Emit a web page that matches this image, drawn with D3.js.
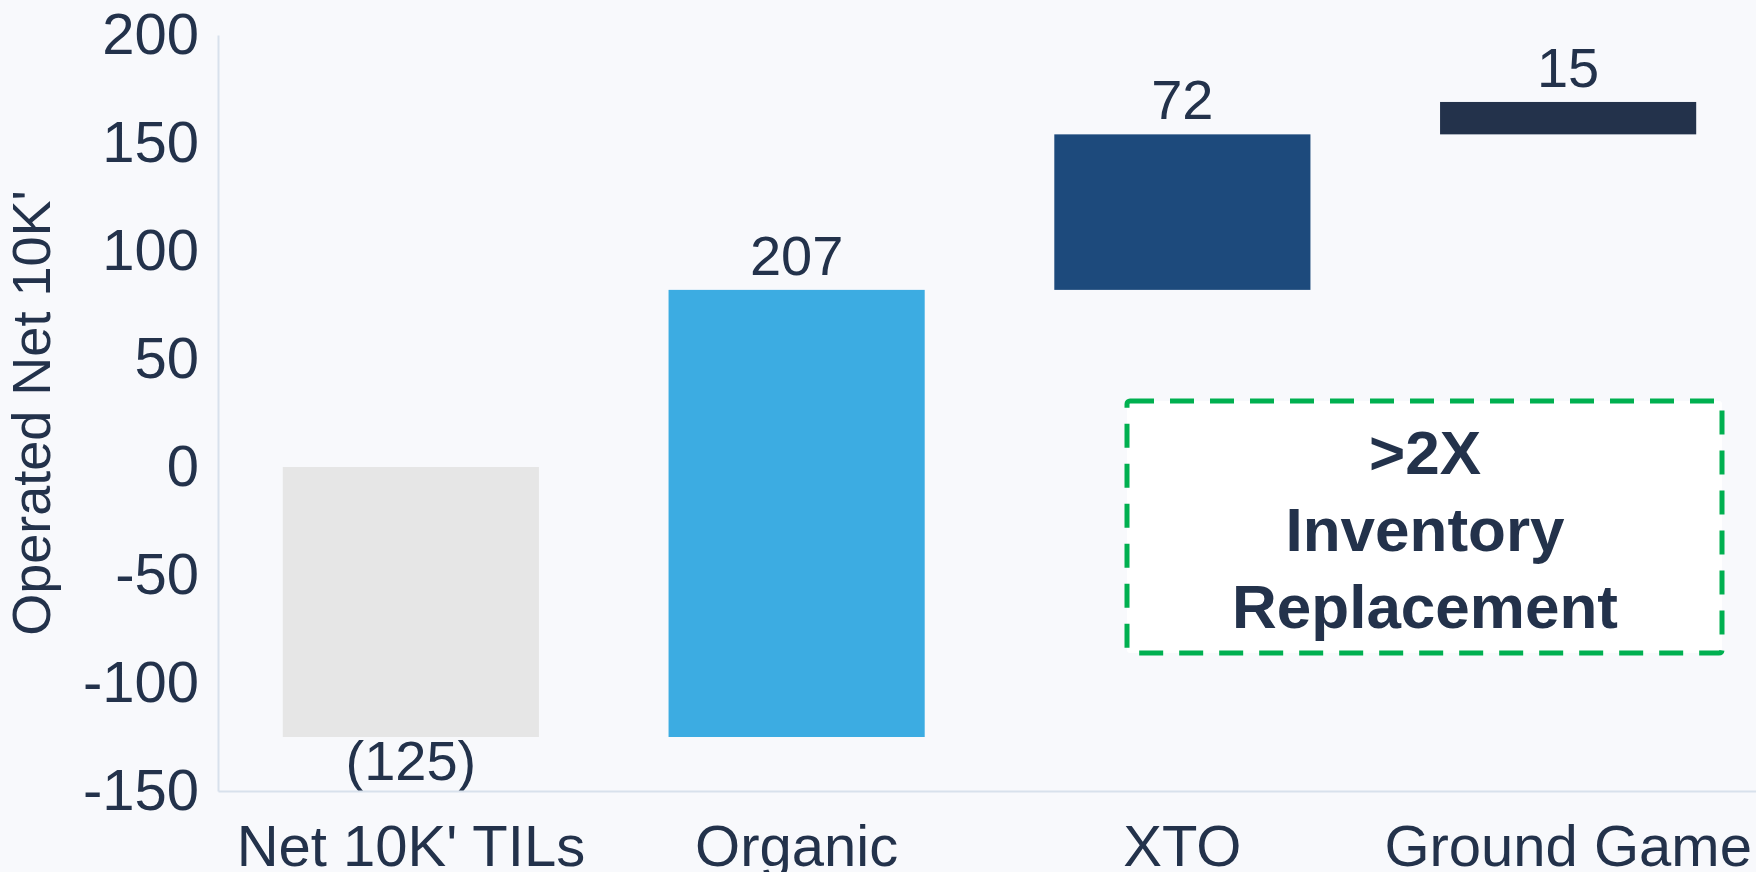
<!DOCTYPE html>
<html>
<head>
<meta charset="utf-8">
<script src="https://cdn.jsdelivr.net/npm/d3@7"></script>
<style>
  body { margin: 0; background: #f8f9fc; }
  svg { display: block; font-family: "Liberation Sans", Arial, sans-serif; }
</style>
</head>
<body>
<script>
// waterfall steps
var categories = ["Net 10K' TILs", "Organic", "XTO", "Ground Game"];
var changes = [-125, 207, 72, 15];
var barColors = ["#e6e6e6", "#3cace2", "#1d4a7c", "#23324b"];
var yTicks = [-150, -100, -50, 0, 50, 100, 150, 200];
var calloutLines = [">2X", "Inventory", "Replacement"];

const w = 1756;
const h = 872;
const textColor = "#23324b";

// build start / end for each step
var running = 0;
var steps = changes.map(function (v, i) {
    var start = i == 0 ? 0 : running;
    var end = i == 0 ? v : running + v;
    running = end;
    return { name: categories[i], value: v, y0: Math.min(start, end), y1: Math.max(start, end) };
});

const xScale = d3.scaleBand()
    .domain(categories)
    .range([218, 1761])
    .paddingInner(0.336)
    .paddingOuter(0.168);

const yScale = d3.scaleLinear()
    .domain([-150, 200])
    .range([791, 35]);

const svg = d3.select("body")
    .append("svg")
    .attr("width", w)
    .attr("height", h);

svg.append("rect")
    .attr("width", w)
    .attr("height", h)
    .attr("fill", "#f8f9fc");

// bars
svg.selectAll("rect.bar")
    .data(steps)
    .enter()
    .append("rect")
    .attr("class", "bar")
    .attr("x", (d) => xScale(d.name))
    .attr("y", (d) => yScale(d.y1))
    .attr("width", xScale.bandwidth())
    .attr("height", (d) => yScale(d.y0) - yScale(d.y1))
    .attr("fill", (d, i) => barColors[i]);

// value labels
svg.selectAll("text.val")
    .data(steps)
    .enter()
    .append("text")
    .attr("class", "val")
    .attr("x", (d) => xScale(d.name) + xScale.bandwidth() / 2)
    .attr("y", (d) => d.value < 0 ? yScale(d.y0) + 43 : yScale(d.y1) - 15)
    .attr("text-anchor", "middle")
    .attr("fill", textColor)
    .style("font-size", "56px")
    .text((d) => d.value < 0 ? "(" + Math.abs(d.value) + ")" : d.value);

// axes
const yAxis = d3.axisLeft(yScale)
    .tickValues(yTicks)
    .tickFormat((d) => String(d))
    .tickSize(0)
    .tickPadding(19);

const gy = svg.append("g")
    .attr("transform", "translate(218,0)")
    .call(yAxis);
gy.select(".domain").attr("stroke", "#d8e1ec").attr("stroke-width", 2);
gy.selectAll("text").attr("fill", textColor).style("font-size", "58px");

const xAxis = d3.axisBottom(xScale)
    .tickSize(0)
    .tickPadding(34);

const gx = svg.append("g")
    .attr("transform", "translate(0,791)")
    .call(xAxis);
gx.select(".domain").attr("stroke", "#d8e1ec").attr("stroke-width", 2);
gx.selectAll("text").attr("fill", textColor).style("font-size", "58px");

// y axis title
svg.append("text")
    .attr("transform", "translate(50," + ((yScale(-150) + yScale(200)) / 2) + ") rotate(-90)")
    .attr("text-anchor", "middle")
    .attr("fill", textColor)
    .style("font-size", "54px")
    .text("Operated Net 10K'");

// callout box
svg.append("rect")
    .attr("x", 1127)
    .attr("y", 401)
    .attr("width", 595)
    .attr("height", 252)
    .attr("rx", 3)
    .attr("fill", "#ffffff")
    .attr("stroke", "#00b050")
    .attr("stroke-width", 5)
    .attr("stroke-dasharray", "24,16");

svg.selectAll("text.callout")
    .data(calloutLines)
    .enter()
    .append("text")
    .attr("class", "callout")
    .attr("x", 1425)
    .attr("y", (d, i) => 474 + i * 77)
    .attr("text-anchor", "middle")
    .attr("fill", textColor)
    .style("font-size", "62px")
    .style("font-weight", "bold")
    .text((d) => d);
</script>
</body>
</html>
